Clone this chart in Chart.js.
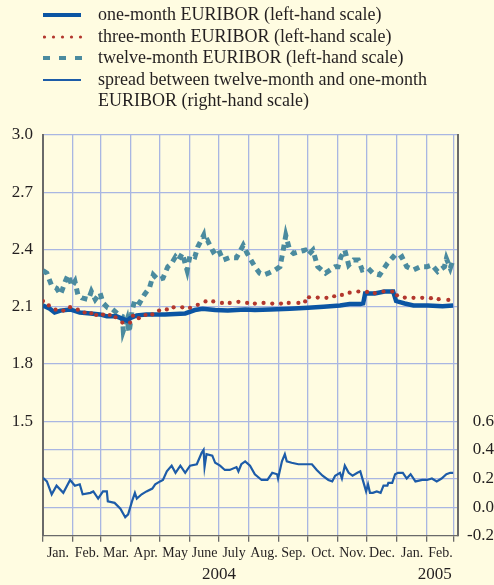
<!DOCTYPE html>
<html>
<head>
<meta charset="utf-8">
<script src="https://cdn.jsdelivr.net/npm/chart.js@4.4.1/dist/chart.umd.min.js"></script>
<style>
  html, body { margin: 0; padding: 0; background: #fffce1; }
  #wrap { position: relative; width: 494px; height: 585px; }
  #legend { position: absolute; left: 0; top: 4px; font-family: "Liberation Serif", serif; font-size: 18px; color: #231f20; }
  .row { position: relative; height: 21.5px; line-height: 21.5px; padding-left: 98px; white-space: nowrap; }
  .row svg { position: absolute; left: 43px; top: 0; }
</style>
</head>
<body>
<div id="wrap">
  <canvas id="chart" width="494" height="585"></canvas>
  <div id="legend">
    <div class="row"><svg width="40" height="22"><line x1="0" y1="11" x2="38" y2="11" stroke="#0b55a3" stroke-width="4"/></svg>one-month EURIBOR (left-hand scale)</div>
    <div class="row"><svg width="40" height="22"><g fill="#b3372d"><circle cx="1.5" cy="11" r="1.6"/><circle cx="10.5" cy="11" r="1.6"/><circle cx="19.5" cy="11" r="1.6"/><circle cx="28.5" cy="11" r="1.6"/><circle cx="37.5" cy="11" r="1.6"/></g></svg>three-month EURIBOR (left-hand scale)</div>
    <div class="row"><svg width="40" height="22"><line x1="0" y1="11" x2="39" y2="11" stroke="#4b8b9f" stroke-width="4" stroke-dasharray="7,9"/></svg>twelve-month EURIBOR (left-hand scale)</div>
    <div class="row"><svg width="40" height="22"><line x1="0" y1="11" x2="38" y2="11" stroke="#1d5ca8" stroke-width="2.2"/></svg>spread between twelve-month and one-month</div>
    <div class="row">EURIBOR (right-hand scale)</div>
  </div>
</div>
<script>
// days counted from 1 Jan 2004
const monthStarts = [0, 31, 60, 91, 121, 152, 182, 213, 244, 274, 305, 335, 366, 397, 425];
const monthLabels = ["Jan.", "Feb.", "Mar.", "Apr.", "May", "June", "July", "Aug.", "Sep.", "Oct.", "Nov.", "Dec.", "Jan.", "Feb."];
const yearLabels = ["2004", "2005"];
const yearCentres = [182, 405];

const oneMonthDays = [0,7,12,18,28,38,49,59,66,76,83,87,90,97,107,126,147,157,165,178,191,209,219,235,255,274,290,307,317,328,331,333,343,353,362,365,374,383,398,413,424];
const oneMonth = [2.107,2.09,2.07,2.08,2.086,2.07,2.065,2.06,2.05,2.05,2.035,2.026,2.04,2.055,2.06,2.06,2.065,2.083,2.09,2.083,2.08,2.086,2.083,2.086,2.09,2.095,2.1,2.107,2.115,2.115,2.118,2.17,2.17,2.18,2.18,2.13,2.117,2.107,2.107,2.103,2.107];

const threeMonthDays = [0,6,13,21,28,36,43,50,55,62,69,75,82,90,93,99,106,113,120,128,135,144,152,160,168,176,185,193,202,211,219,228,237,246,254,264,271,275,284,293,301,309,317,326,335,343,352,361,366,374,383,392,401,409,419];
const threeMonth = [2.13,2.107,2.085,2.08,2.098,2.085,2.07,2.066,2.057,2.059,2.057,2.045,2.017,2.017,2.053,2.04,2.057,2.06,2.08,2.086,2.097,2.097,2.095,2.11,2.128,2.128,2.12,2.12,2.126,2.12,2.117,2.12,2.117,2.117,2.12,2.12,2.128,2.15,2.148,2.147,2.155,2.162,2.174,2.18,2.178,2.172,2.18,2.18,2.16,2.148,2.147,2.147,2.145,2.14,2.136];

const twelveMonthDays = [0,4,9,14,18,20,23,26,30,33,36,40,47,50,54,59,62,67,72,78,82,83,87,89,92,95,100,105,110,114,119,124,129,133,137,140,144,149,152,157,160,166,167,170,176,181,186,193,200,207,211,214,219,224,228,233,240,245,248,251,255,259,264,271,274,279,284,292,297,302,305,308,312,316,321,326,330,336,341,348,356,362,366,371,376,383,390,397,402,408,415,417,421,424];
const twelveMonth = [2.29,2.276,2.21,2.198,2.165,2.19,2.233,2.267,2.207,2.233,2.165,2.147,2.138,2.18,2.138,2.172,2.12,2.095,2.086,2.06,2.05,1.974,2.034,1.966,2.078,2.138,2.12,2.165,2.198,2.267,2.241,2.25,2.31,2.328,2.362,2.345,2.38,2.29,2.37,2.362,2.414,2.474,2.44,2.448,2.388,2.405,2.345,2.358,2.357,2.422,2.38,2.354,2.31,2.276,2.267,2.276,2.293,2.31,2.388,2.474,2.397,2.38,2.388,2.397,2.37,2.397,2.31,2.276,2.293,2.31,2.31,2.362,2.397,2.319,2.345,2.345,2.293,2.302,2.276,2.267,2.328,2.362,2.345,2.362,2.31,2.293,2.31,2.31,2.319,2.284,2.31,2.353,2.302,2.348];

const spreadDays = [0,4,9,14,21,28,33,38,41,49,52,57,62,66,67,74,80,85,88,92,95,97,102,107,113,116,121,124,128,133,137,142,147,152,159,164,166,167,169,175,178,183,188,193,200,202,205,209,214,219,226,232,237,242,243,247,250,252,257,264,271,278,283,289,295,299,302,307,309,312,316,320,325,328,331,334,336,338,341,345,349,352,356,357,361,364,367,372,376,380,385,392,397,402,407,412,417,421,424];
const spread = [0.205,0.18,0.09,0.15,0.10,0.19,0.15,0.16,0.09,0.10,0.11,0.06,0.11,0.11,0.04,0.03,-0.01,-0.07,-0.05,0.04,0.10,0.06,0.09,0.11,0.13,0.16,0.18,0.19,0.25,0.29,0.24,0.29,0.24,0.29,0.30,0.38,0.40,0.28,0.37,0.36,0.31,0.29,0.26,0.26,0.28,0.25,0.30,0.32,0.29,0.23,0.19,0.19,0.24,0.23,0.20,0.32,0.37,0.32,0.31,0.30,0.30,0.30,0.26,0.22,0.19,0.18,0.22,0.24,0.20,0.29,0.24,0.22,0.24,0.25,0.18,0.11,0.16,0.10,0.10,0.11,0.10,0.15,0.15,0.17,0.17,0.23,0.24,0.24,0.20,0.23,0.18,0.19,0.19,0.20,0.18,0.20,0.23,0.24,0.24];

const leftTicks = [0.9, 1.2, 1.5, 1.8, 2.1, 2.4, 2.7, 3.0];
const rightTicks = [-0.2, 0.0, 0.2, 0.4, 0.6, 0.8, 1.0, 1.2, 1.4, 1.6, 1.8, 2.0, 2.2, 2.4, 2.6];

const pts = (days, vals) => days.map((d, i) => ({ x: d, y: vals[i] }));

const serif = "'Liberation Serif', 'Times New Roman', serif";
const gridCol = "#a9b6e2";
const axisCol = "#6a6a6a";
const textCol = "#231f20";

const monthMids = monthStarts.slice(0, -1).map((s, i) => (s + monthStarts[i + 1]) / 2);

new Chart(document.getElementById("chart"), {
  type: "line",
  data: {
    datasets: [
      {
        label: "three-month EURIBOR (left-hand scale)",
        data: pts(threeMonthDays, threeMonth),
        yAxisID: "y",
        showLine: false,
        pointRadius: 2.1,
        pointBorderWidth: 0,
        pointBackgroundColor: "#b3372d",
        order: 1
      },
      {
        label: "one-month EURIBOR (left-hand scale)",
        data: pts(oneMonthDays, oneMonth),
        yAxisID: "y",
        borderColor: "#0b55a3",
        borderWidth: 4.5,
        pointRadius: 0,
        order: 2
      },
      {
        label: "twelve-month EURIBOR (left-hand scale)",
        data: pts(twelveMonthDays, twelveMonth),
        yAxisID: "y",
        borderColor: "#4b8b9f",
        borderWidth: 5,
        borderDash: [6, 5],
        pointRadius: 0,
        order: 3
      },
      {
        label: "spread between twelve-month and one-month EURIBOR (right-hand scale)",
        data: pts(spreadDays, spread),
        yAxisID: "y2",
        borderColor: "#1d5ca8",
        borderWidth: 2.2,
        pointRadius: 0,
        order: 4
      }
    ]
  },
  options: {
    responsive: false,
    animation: false,
    layout: { padding: { top: 135, left: 0, right: 0, bottom: 0 } },
    plugins: { legend: { display: false }, tooltip: { enabled: false } },
    elements: { line: { tension: 0 } },
    scales: {
      x: {
        type: "linear",
        position: "bottom",
        weight: 0,
        min: 0,
        max: 429,
        afterBuildTicks: (s) => { s.ticks = monthStarts.map(v => ({ value: v })); },
        ticks: { display: false },
        grid: { color: gridCol, lineWidth: 1.3, tickColor: axisCol, tickLength: 6, tickWidth: 1.3 },
        border: { display: true, color: axisCol, width: 1.3 }
      },
      xm: {
        type: "linear",
        position: "bottom",
        weight: 1,
        min: 0,
        max: 429,
        afterBuildTicks: (s) => { s.ticks = monthMids.map(v => ({ value: v })); },
        ticks: {
          autoSkip: false, maxRotation: 0, padding: 3,
          color: textCol, font: { family: serif, size: 14 },
          callback: (v, i) => monthLabels[i]
        },
        grid: { display: false, drawTicks: false },
        border: { display: false }
      },
      xy: {
        type: "linear",
        position: "bottom",
        weight: 2,
        min: 0,
        max: 429,
        afterBuildTicks: (s) => { s.ticks = yearCentres.map(v => ({ value: v })); },
        ticks: {
          autoSkip: false, maxRotation: 0, padding: 0,
          color: textCol, font: { family: serif, size: 17 },
          callback: (v, i) => yearLabels[i]
        },
        grid: { display: false, drawTicks: false },
        border: { display: false }
      },
      y: {
        position: "left",
        min: 0.9,
        max: 3.0,
        afterBuildTicks: (s) => { s.ticks = leftTicks.map(v => ({ value: v })); },
        afterFit: (s) => { s.width = 43; },
        ticks: {
          padding: 10, color: textCol, font: { family: serif, size: 17 },
          callback: (v) => v >= 1.49 ? v.toFixed(1) : ""
        },
        grid: {
          drawTicks: false, lineWidth: 1.3,
          color: (c) => (c.tick && c.tick.value >= 1.49) ? gridCol : "rgba(0,0,0,0)"
        },
        border: { display: true, color: axisCol, width: 2 }
      },
      y2: {
        position: "right",
        min: -0.2,
        max: 2.6,
        afterBuildTicks: (s) => { s.ticks = rightTicks.map(v => ({ value: v })); },
        afterFit: (s) => { s.width = 36; },
        ticks: {
          padding: 4, crossAlign: "far", color: textCol, font: { family: serif, size: 17 },
          callback: (v) => v <= 0.61 ? v.toFixed(1) : ""
        },
        grid: {
          drawTicks: false, lineWidth: 1.3,
          color: (c) => (c.tick && c.tick.value > -0.1 && c.tick.value < 0.45) ? gridCol : "rgba(0,0,0,0)"
        },
        border: { display: true, color: axisCol, width: 2 }
      }
    }
  }
});
</script>
</body>
</html>
